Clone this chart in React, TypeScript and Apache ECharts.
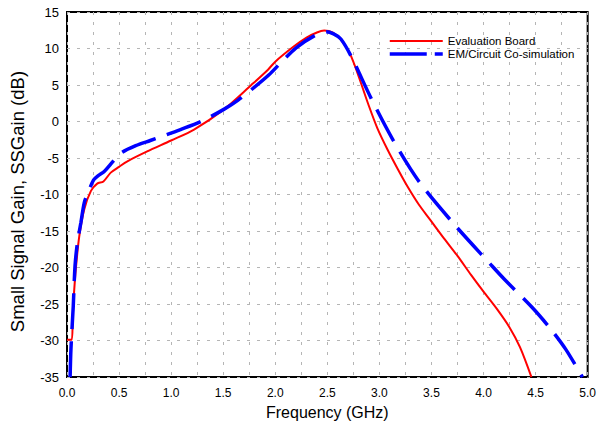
import React, { useEffect, useRef } from "react";
import * as echarts from "echarts";

const xTicks = [0, 0.5, 1.0, 1.5, 2.0, 2.5, 3.0, 3.5, 4.0, 4.5, 5.0];
const yTicks = [-35, -30, -25, -20, -15, -10, -5, 0, 5, 10, 15];

const seriesNames = ["Evaluation Board", "EM/Circuit Co-simulation"];

const evalFreq = [0, 0.045, 0.055, 0.065, 0.086, 0.118, 0.166, 0.23, 0.29, 0.35, 0.42, 0.5, 0.58, 0.77, 1.0, 1.22, 1.51, 1.77, 1.93, 2.0, 2.18, 2.3, 2.4, 2.47, 2.55, 2.63, 2.73, 2.89, 2.98, 3.08, 3.18, 3.27, 3.38, 3.49, 3.62, 3.75, 3.88, 4.0, 4.13, 4.25, 4.35, 4.46];
const evalGain = [-29.9, -29.9, -27, -24, -20, -15.7, -12.0, -9.5, -8.5, -8.2, -7.0, -6.2, -5.45, -4.1, -2.6, -1.1, 1.7, 5.0, 7.1, 8.2, 10.3, 11.5, 12.2, 12.45, 12.2, 11.2, 8.9, 2.5, -0.9, -3.9, -6.6, -8.9, -11.4, -13.5, -16.0, -18.4, -21.0, -23.3, -25.7, -28.2, -30.9, -35];

const simFreq = [0.03, 0.038, 0.06, 0.077, 0.1, 0.134, 0.166, 0.2, 0.256, 0.3, 0.36, 0.44, 0.52, 0.66, 0.8, 0.9, 1.09, 1.3, 1.51, 1.64, 1.8, 1.94, 2.05, 2.2, 2.37, 2.49, 2.56, 2.63, 2.73, 2.92, 3.13, 3.38, 3.72, 4.07, 4.2, 4.47, 4.65, 4.79, 4.95];
const simGain = [-35, -31.1, -25.3, -19.8, -16.6, -13.8, -11.1, -9.8, -8.0, -7.4, -6.8, -5.5, -4.3, -3.3, -2.6, -2.1, -1.1, 0.1, 1.7, 2.9, 4.7, 6.4, 8.0, 10.1, 11.7, 12.3, 12.0, 11.3, 8.9, 3.2, -2.5, -8.2, -14.1, -19.6, -21.6, -25.5, -28.5, -31.2, -35];

const FONT = "'Liberation Sans', Arial, sans-serif";

export default function App() {
  const ref = useRef<HTMLDivElement>(null);
  useEffect(() => {
    if (!ref.current) return;
    const chart = echarts.init(ref.current, undefined, { renderer: "svg" });
    const gridLine = { show: true, lineStyle: { color: "#b5b5b5", type: [3, 7] as any, width: 1 } };
    chart.setOption({
      animation: false,
      backgroundColor: "#fff",
      grid: { left: 66, right: 11, top: 12, bottom: 47, show: true, borderColor: "#000", borderWidth: 2, backgroundColor: "transparent" },
      legend: {
        orient: "vertical",
        left: 383,
        top: 30,
        itemWidth: 53,
        itemHeight: 12,
        itemGap: 1,
        itemStyle: { opacity: 0 },
        textStyle: { fontFamily: FONT, fontSize: 11.5, color: "#000" },
        data: [
          { name: seriesNames[0] },
          { name: seriesNames[1], lineStyle: { type: [37, 8], dashOffset: 0, width: 3.5, color: "#0000ff" } },
        ],
      },
      xAxis: {
        type: "value",
        min: xTicks[0],
        max: xTicks[xTicks.length - 1],
        interval: 0.5,
        name: "Frequency (GHz)",
        nameLocation: "middle",
        nameGap: 25,
        nameTextStyle: { fontFamily: FONT, fontSize: 16, color: "#000" },
        axisLine: { show: false },
        axisTick: { show: false },
        axisLabel: { fontFamily: FONT, fontSize: 12, color: "#000", margin: 10, formatter: (v: number) => v.toFixed(1) },
        splitLine: gridLine,
        minorTick: { show: false, splitNumber: 2 },
        minorSplitLine: gridLine,
      },
      yAxis: {
        type: "value",
        min: yTicks[0],
        max: yTicks[yTicks.length - 1],
        interval: 5,
        name: "Small Signal Gain, SSGain (dB)",
        nameLocation: "middle",
        nameGap: 40,
        nameTextStyle: { fontFamily: FONT, fontSize: 18.5, color: "#000", padding: [0, 14, 0, 0] },
        axisLine: { show: false },
        axisTick: { show: false },
        axisLabel: { fontFamily: FONT, fontSize: 13, color: "#000", margin: 8 },
        splitLine: gridLine,
      },
      series: [
        {
          name: seriesNames[0],
          type: "line",
          symbol: "none",
          smooth: 0.3,
          clip: true,
          lineStyle: { color: "#ff0000", width: 2 },
          itemStyle: { color: "#ff0000" },
          data: evalFreq.map((f, i) => [f, evalGain[i]]),
          z: 3,
        },
        {
          name: seriesNames[1],
          type: "line",
          symbol: "none",
          smooth: 0.3,
          clip: true,
          lineStyle: { color: "#0000ff", width: 3.5, type: [36, 12] },
          itemStyle: { color: "#0000ff" },
          data: simFreq.map((f, i) => [f, simGain[i]]),
          z: 4,
        },
      ],
    });
    return () => chart.dispose();
  }, []);
  return <div ref={ref} style={{ position: "absolute", left: 0, top: 0, width: 599, height: 425 }} />;
}
